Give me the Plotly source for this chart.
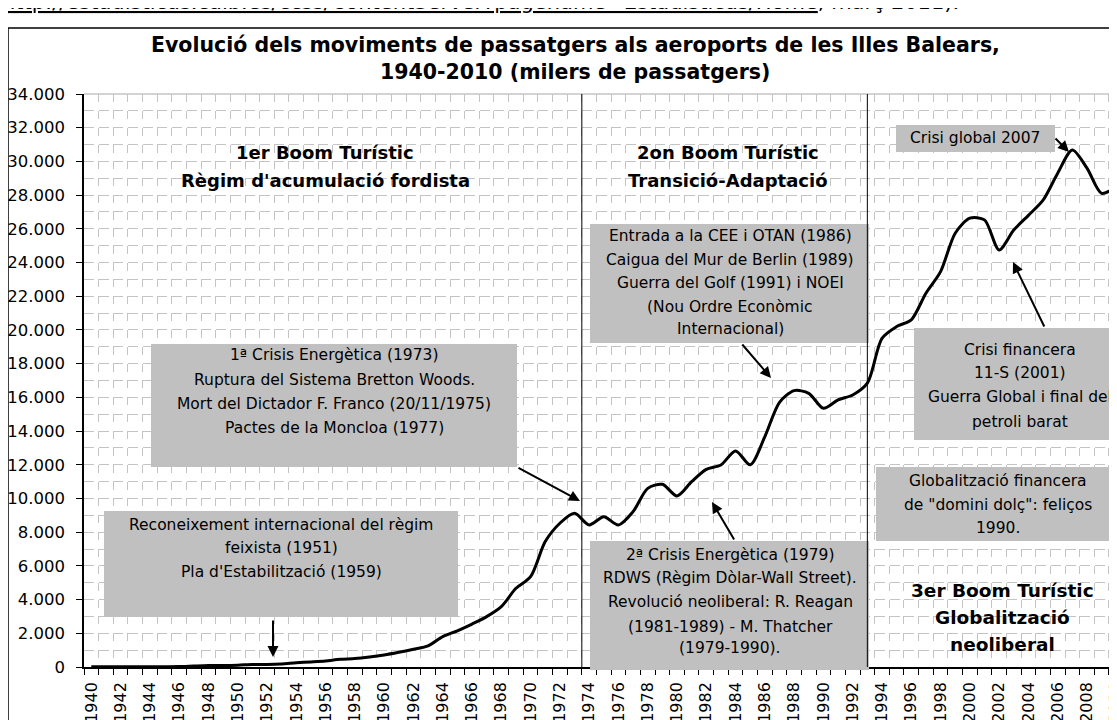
import plotly.graph_objects as go

# ---------------- data (milers de passatgers) ----------------
years = list(range(1940, 2011))
passengers = [
    10, 10, 10, 15, 15, 20, 25, 60, 90, 90,            # 1940-1949
    110, 150, 150, 180, 250, 300, 360, 460, 500, 590,  # 1950-1959
    710, 870, 1050, 1250, 1800, 2150, 2550, 2990, 3580, 4670,  # 1960-1969
    5360, 7440, 8530, 9120, 8430, 8920, 8430, 9220, 10600, 10840,  # 1970-1979
    10150, 11000, 11730, 11990, 12820, 12000, 13670, 15700, 16400, 16240,  # 1980-1989
    15350, 15850, 16140, 16840, 19500, 20200, 20600, 22180, 23460, 25740,  # 1990-1999
    26630, 26530, 24750, 25930, 26800, 27700, 29300, 30680, 29600, 28100,  # 2000-2009
    28500,  # 2010
]
tick_years = list(range(1940, 2011, 2))
period_limits = [1973.5, 1993]

title_lines = ["Evolució dels moviments de passatgers als aeroports de les Illes Balears,",
               "1940-2010 (milers de passatgers)"]

# ---------------- layout geometry (window pixels) ----------------
WIN_W, WIN_H = 1117, 720
OX, OY = 8, 8                 # page body margin
W, H = WIN_W - OX, WIN_H - OY
L, R, T, B = 84, 1117, 94, 667

def PX(px):
    return (px - L) / (R - L)

def PY(py):
    return (B - py) / (B - T)

FONT = "DejaVu Sans"
FS = 15.5

fig = go.Figure()
fig.add_trace(go.Scatter(
    x=years, y=passengers, mode="lines",
    line=dict(color="black", width=3, shape="spline", smoothing=0.8),
    hoverinfo="x+y", showlegend=False))

shapes = []
annotations = []

# gray boxes
boxes = [
    (151, 344, 517, 467),
    (104, 511, 458, 617),
    (590, 224, 869, 343),
    (896, 125, 1055, 152),
    (914, 328, 1130, 440),
    (876, 467, 1130, 541),
    (590, 541, 869, 670),
]
for x0, y0, x1, y1 in boxes:
    shapes.append(dict(type="rect", xref="paper", yref="paper",
                       x0=PX(x0), x1=PX(x1), y0=PY(y1), y1=PY(y0),
                       fillcolor="#c0c0c0", line=dict(width=0), layer="above"))

# period separators
for xv in period_limits:
    shapes.append(dict(type="line", xref="x", yref="paper", x0=xv, x1=xv, y0=0, y1=1,
                       line=dict(color="black", width=1), layer="above"))

# plot top border
shapes.append(dict(type="line", xref="paper", yref="paper", x0=0, x1=1, y0=1, y1=1,
                   line=dict(color="#a8a8a8", width=1), layer="below"))

# outer chart frame (top + left)
shapes.append(dict(type="line", xref="paper", yref="paper", x0=PX(8), x1=PX(1130),
                   y0=PY(28), y1=PY(28), line=dict(color="black", width=1.5)))
shapes.append(dict(type="line", xref="paper", yref="paper", x0=PX(8), x1=PX(8),
                   y0=PY(28), y1=PY(730), line=dict(color="black", width=1.5)))


def text_block(cx, ys, lines, size=FS, bold=False):
    for yy, t in zip(ys, lines):
        annotations.append(dict(
            xref="paper", yref="paper", x=PX(cx), y=PY(yy),
            text=("<b>%s</b>" % t) if bold else t,
            showarrow=False, xanchor="center", yanchor="middle",
            font=dict(family=FONT, size=size, color="black")))


# title
text_block(575, [45, 72], title_lines, size=20.5, bold=True)

# period headings
text_block(325, [152, 180], ["1er Boom Turístic", "Règim d'acumulació fordista"], size=18, bold=True)
text_block(728, [152, 180], ["2on Boom Turístic", "Transició-Adaptació"], size=18, bold=True)
text_block(1002, [590, 617, 644], ["3er Boom Turístic", "Globalització", "neoliberal"], size=18.5, bold=True)

# box texts
text_block(334, [355, 380, 404, 428],
           ["1ª Crisis Energètica (1973)", "Ruptura del Sistema Bretton Woods.",
            "Mort del Dictador F. Franco (20/11/1975)", "Pactes de la Moncloa (1977)"])
text_block(281, [525, 548, 572],
           ["Reconeixement internacional del règim", "feixista (1951)", "Pla d'Estabilització (1959)"])
text_block(730, [236, 260, 283, 307, 329],
           ["Entrada a la CEE i OTAN (1986)", "Caigua del Mur de Berlin (1989)",
            "Guerra del Golf (1991) i NOEI", "(Nou Ordre Econòmic", "Internacional)"])
text_block(975, [138], ["Crisi global 2007"])
text_block(1020, [350, 373, 397, 422],
           ["Crisi financera", "11-S (2001)", "Guerra Global i final del", "petroli barat"])
text_block(998, [481, 505, 528],
           ["Globalització financera", "de \"domini dolç\": feliços", "1990."])
text_block(730, [555, 578, 602, 627, 648],
           ["2ª Crisis Energètica (1979)", "RDWS (Règim Dòlar-Wall Street).",
            "Revolució neoliberal: R. Reagan", "(1981-1989) - M. Thatcher", "(1979-1990)."])

# arrows: (tip, tail) in pixels
arrows = [
    ((273, 657), (273, 619)),
    ((580, 501), (517, 467)),
    ((712, 502), (735, 541)),
    ((771, 378), (741, 343)),
    ((1069, 152), (1054, 137)),
    ((1013, 262), (1045, 328)),
]
for (tx, ty), (sx, sy) in arrows:
    annotations.append(dict(xref="paper", yref="paper", x=PX(tx), y=PY(ty),
                            ax=sx - tx, ay=sy - ty, text="", showarrow=True,
                            arrowhead=2, arrowsize=1.1, arrowwidth=2, arrowcolor="black",
                            standoff=0, startstandoff=0))

# source header (partially cut at top)
annotations.append(dict(xref="paper", yref="paper", x=PX(0), y=PY(2),
                        xanchor="left", yanchor="middle", showarrow=False,
                        text="<u>http://estadisticas.caib.es/ccss/ContentServer?pagename=Estadisticas/Home</u>, març 2011).",
                        font=dict(family=FONT, size=21, color="black")))

fig.update_layout(
    width=W, height=H,
    margin=dict(l=L - OX, r=WIN_W - R, t=T - OY, b=WIN_H - B, pad=0, autoexpand=False),
    paper_bgcolor="white", plot_bgcolor="white",
    separators=",.",
    font=dict(family=FONT, size=FS, color="black"),
    shapes=shapes, annotations=annotations,
    xaxis=dict(
        automargin=False, ticklabeloverflow="allow",
        range=[1939.5, 2010.05], tickmode="array", tickvals=tick_years,
        ticktext=[str(y) for y in tick_years], tickangle=-90, ticks="",
        showgrid=False, zeroline=False, showline=True, linecolor="black", linewidth=1.5,
        tickfont=dict(family=FONT, size=16, color="black"), ticklabelstandoff=7,
        minor=dict(tickmode="linear", tick0=1939.5, dtick=1, ticks="outside", ticklen=6,
                   tickcolor="black", tickwidth=1, showgrid=True, gridcolor="#c4c4c4",
                   griddash="8px,8.85px", gridwidth=1),
    ),
    yaxis=dict(
        automargin=False,
        range=[0, 34000], dtick=2000, tickformat=",d", ticks="outside", ticklen=6,
        tickcolor="black", showgrid=True, gridcolor="#c4c4c4", griddash="10px,4.65px",
        zeroline=False, showline=True, linecolor="black", linewidth=1.5,
        tickfont=dict(family=FONT, size=16.5, color="black"), ticklabelstandoff=8,
        minor=dict(dtick=1000, showgrid=True, gridcolor="#c4c4c4", griddash="10px,4.65px",
                   ticks=""),
    ),
)

fig.write_html("out.html")
